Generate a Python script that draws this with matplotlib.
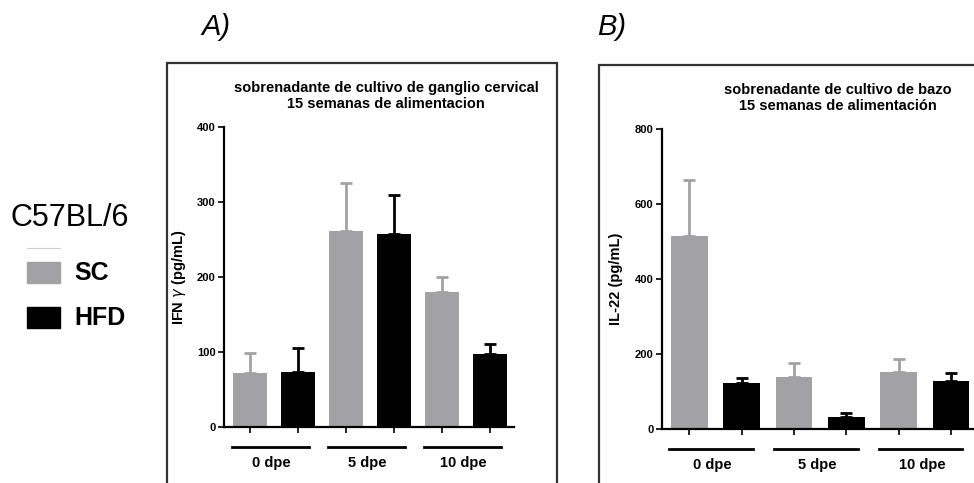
import matplotlib
matplotlib.use("Agg")
import matplotlib.pyplot as plt
import matplotlib.transforms as mtransforms
from matplotlib.patches import Rectangle
import numpy as np

plt.rcParams['font.family'] = ['Liberation Sans', 'DejaVu Sans']

groups = ["0 dpe", "5 dpe", "10 dpe"]
series = ["SC", "HFD"]
colors = {"SC": "#a2a2a6", "HFD": "#000000"}

# Panel A: IFN gamma
a_sc = [72, 261, 180]
a_sc_err = [27, 64, 20]
a_hfd = [73, 258, 98]
a_hfd_err = [32, 51, 13]
a_title = "sobrenadante de cultivo de ganglio cervical\n15 semanas de alimentacion"
a_ylabel = "IFN $\\gamma$ (pg/mL)"
a_yticks = [0, 100, 200, 300, 400]

# Panel B: IL-22
b_sc = [515, 139, 153]
b_sc_err = [149, 37, 35]
b_hfd = [124, 33, 129]
b_hfd_err = [11, 11, 20]
b_title = "sobrenadante de cultivo de bazo\n15 semanas de alimentación"
b_ylabel = "IL-22 (pg/mL)"
b_yticks = [0, 200, 400, 600, 800]

W, H = 974, 483
fig = plt.figure(figsize=(W / 100, H / 100), dpi=100)


def fx(px):
    return px / W


def fy(py):
    return 1 - py / H


def panel(rect, sc, sc_err, hfd, hfd_err, yticks, ylabel, xlim):
    ax = fig.add_axes(rect)
    pos_sc = np.array([0, 2, 4])
    pos_hfd = pos_sc + 1
    w = 0.7
    ax.bar(pos_sc, sc, width=w, color=colors["SC"], zorder=2)
    ax.bar(pos_hfd, hfd, width=w, color=colors["HFD"], zorder=2)
    ax.errorbar(pos_sc, sc, yerr=[np.zeros(3), sc_err], fmt='none',
                ecolor=colors["SC"], elinewidth=2, capsize=4, capthick=2, zorder=1)
    ax.errorbar(pos_hfd, hfd, yerr=[np.zeros(3), hfd_err], fmt='none',
                ecolor=colors["HFD"], elinewidth=2, capsize=4, capthick=2, zorder=1)
    ax.set_ylim(yticks[0], yticks[-1])
    ax.set_xlim(*xlim)
    ax.set_yticks(yticks)
    ax.set_xticks(np.arange(6))
    ax.set_xticklabels([])
    for s in ["top", "right"]:
        ax.spines[s].set_visible(False)
    for s in ["left", "bottom"]:
        ax.spines[s].set_linewidth(1.6)
    ax.tick_params(axis='y', length=4, width=1.2, labelsize=8, pad=2)
    ax.tick_params(axis='x', length=4, width=1.2)
    for t in ax.get_yticklabels():
        t.set_fontweight('bold')
    ax.set_ylabel(ylabel, fontsize=10.5, fontweight='bold')
    ax.yaxis.set_label_coords(-0.124, 0.5)
    trans = mtransforms.blended_transform_factory(ax.transData, ax.transAxes)
    for i, g in enumerate(groups):
        p = 2 * i
        ax.plot([p - 0.38, p + 1.22], [-0.067, -0.067], color='black', lw=2,
                transform=trans, clip_on=False)
        ax.text(p + 0.45, -0.12, g, transform=trans, ha='center', va='center',
                fontsize=10.5, fontweight='bold')
    ax.patch.set_alpha(0)
    return ax


# frames
fig.add_artist(Rectangle((fx(167), fy(490)), fx(557) - fx(167), fy(63) - fy(490),
                         fill=False, edgecolor='#333333', lw=1.6,
                         transform=fig.transFigure))
fig.add_artist(Rectangle((fx(599), fy(490)), fx(990) - fx(599), fy(65) - fy(490),
                         fill=False, edgecolor='#333333', lw=1.6,
                         transform=fig.transFigure))

axA = panel([fx(224), fy(427), fx(514) - fx(224), 300 / H],
            a_sc, a_sc_err, a_hfd, a_hfd_err, a_yticks, a_ylabel, (-0.54, 5.5))
axB = panel([fx(662), fy(429), fx(977) - fx(662), 300 / H],
            b_sc, b_sc_err, b_hfd, b_hfd_err, b_yticks, b_ylabel, (-0.52, 5.5))

fig.text(fx(386), fy(96), a_title, ha='center', va='center', fontsize=10.5,
         fontweight='bold', linespacing=1.15)
fig.text(fx(838), fy(98), b_title, ha='center', va='center', fontsize=10.5,
         fontweight='bold', linespacing=1.15)

fig.text(fx(201), fy(27), "A)", ha='left', va='center', fontsize=21, style='italic')
fig.text(fx(597), fy(27), "B)", ha='left', va='center', fontsize=21, style='italic')

# legend
fig.text(fx(10), fy(218), "C57BL/6", ha='left', va='center', fontsize=22)
fig.add_artist(plt.Line2D([fx(27), fx(60)], [fy(248), fy(248)], color='#cccccc',
                          lw=0.8, transform=fig.transFigure))
fig.add_artist(Rectangle((fx(27), fy(283)), fx(60) - fx(27), fy(262) - fy(283),
                         color=colors["SC"], transform=fig.transFigure))
fig.add_artist(Rectangle((fx(27), fy(328)), fx(60) - fx(27), fy(307) - fy(328),
                         color=colors["HFD"], transform=fig.transFigure))
fig.text(fx(74), fy(273), series[0], ha='left', va='center', fontsize=18,
         fontweight='bold')
fig.text(fx(74), fy(318), series[1], ha='left', va='center', fontsize=18,
         fontweight='bold')

fig.savefig("out.png", dpi=100)
